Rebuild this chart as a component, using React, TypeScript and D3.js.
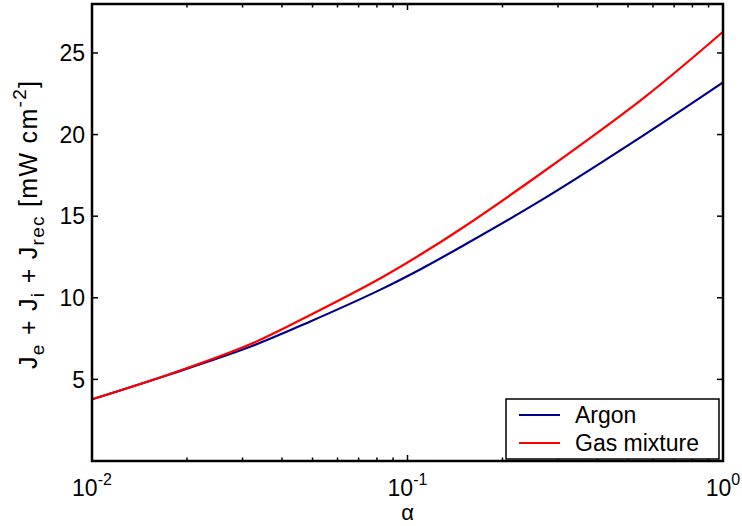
import React from "react";
import * as d3 from "d3";

// values
const alpha = [0.01, 0.0177, 0.0317, 0.0492, 0.0821, 0.11, 0.147, 0.264, 0.561, 1.0];
const argon = [3.78, 5.32, 7.0, 8.55, 10.5, 11.75, 13.1, 15.95, 19.97, 23.2];
const gasMixture = [3.78, 5.33, 7.15, 8.95, 11.2, 12.65, 14.2, 17.6, 22.25, 26.3];
const yTicks = [5, 10, 15, 20, 25];
const xMajor = [0.01, 0.1, 1];
const xMajorExp = ["-2", "-1", "0"];

const series = [
  { name: "Argon", color: "#00008b", values: argon },
  { name: "Gas mixture", color: "#ff0000", values: gasMixture },
];

const W = 742;
const H = 526;
const margin = { left: 92, right: 19, top: 4, bottom: 65 };
const font = "'Liberation Sans', Arial, Helvetica, sans-serif";

const App = () => {
  const x0 = margin.left;
  const x1 = W - margin.right;
  const y0 = H - margin.bottom;
  const y1 = margin.top;

  const xScale = d3.scaleLog().domain([0.01, 1]).range([x0, x1]);
  const yScale = d3.scaleLinear().domain([0, 28]).range([y0, y1]);

  const xMinor = xScale.ticks().filter((t) => !xMajor.some((m) => Math.abs(m - t) < 1e-9));

  const line = d3
    .line<number>()
    .x((_, i) => xScale(alpha[i]))
    .y((d) => yScale(d))
    .curve(d3.curveCatmullRom);

  const major = 6;
  const minor = 3.5;

  return (
    <svg width={W} height={H} style={{ position: "absolute", left: 0, top: 0 }} fontFamily={font}>
      <rect x={0} y={0} width={W} height={H} fill="#fff" />
      {/* lines */}
      {series.map((s) => (
        <path key={s.name} d={line(s.values) || ""} fill="none" stroke={s.color} strokeWidth={2.2} />
      ))}
      {/* y ticks */}
      {yTicks.map((t) => (
        <g key={"y" + t}>
          <line x1={x0} x2={x0 + major} y1={yScale(t)} y2={yScale(t)} stroke="#000" strokeWidth={1.5} />
          <line x1={x1} x2={x1 - major} y1={yScale(t)} y2={yScale(t)} stroke="#000" strokeWidth={1.5} />
          <text x={x0 - 7} y={yScale(t)} dy="0.36em" textAnchor="end" fontSize={23}>
            {t}
          </text>
        </g>
      ))}
      {/* x ticks */}
      {xMajor.map((t, i) => (
        <g key={"x" + t}>
          <line x1={xScale(t)} x2={xScale(t)} y1={y0} y2={y0 - major} stroke="#000" strokeWidth={1.5} />
          <line x1={xScale(t)} x2={xScale(t)} y1={y1} y2={y1 + major} stroke="#000" strokeWidth={1.5} />
          <text x={xScale(t)} y={496} textAnchor="middle" fontSize={23}>
            <tspan>10</tspan>
            <tspan dy={-11} fontSize={16}>{xMajorExp[i]}</tspan>
          </text>
        </g>
      ))}
      {xMinor.map((t) => (
        <g key={"m" + t}>
          <line x1={xScale(t)} x2={xScale(t)} y1={y0} y2={y0 - minor} stroke="#000" strokeWidth={1.5} />
          <line x1={xScale(t)} x2={xScale(t)} y1={y1} y2={y1 + minor} stroke="#000" strokeWidth={1.5} />
        </g>
      ))}
      {/* frame */}
      <rect x={x0} y={y1} width={x1 - x0} height={y0 - y1} fill="none" stroke="#000" strokeWidth={2.5} />
      {/* axis labels */}
      <text x={(x0 + x1) / 2} y={520} textAnchor="middle" fontSize={22}>
        α
      </text>
      <text
        transform={`translate(37, 225) rotate(-90)`}
        textAnchor="middle"
        fontSize={25}
        textLength={288}
        lengthAdjust="spacing"
      >
        <tspan>J</tspan>
        <tspan dy={7} fontSize={19}>e</tspan>
        <tspan dy={-7}> + J</tspan>
        <tspan dy={7} fontSize={19}>i</tspan>
        <tspan dy={-7}> + J</tspan>
        <tspan dy={7} fontSize={19}>rec</tspan>
        <tspan dy={-7}> [mW cm</tspan>
        <tspan dy={-11} fontSize={19}>-2</tspan>
        <tspan dy={11}>]</tspan>
      </text>
      {/* legend */}
      <g>
        <rect x={506} y={399} width={213} height={60} fill="#fff" stroke="#000" strokeWidth={1.5} />
        {series.map((s, i) => (
          <g key={"l" + s.name}>
            <line x1={519} x2={560} y1={415 + i * 28} y2={415 + i * 28} stroke={s.color} strokeWidth={2.2} />
            <text x={575} y={415 + i * 28} dy="0.36em" fontSize={23}>
              {s.name}
            </text>
          </g>
        ))}
      </g>
    </svg>
  );
};

export default App;
